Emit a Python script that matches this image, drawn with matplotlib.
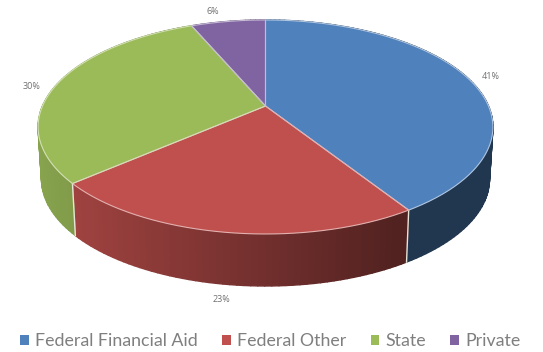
import numpy as np
import matplotlib
matplotlib.use('Agg')
import matplotlib.pyplot as plt
from matplotlib.collections import PolyCollection
from matplotlib.colors import to_rgb
from matplotlib.patches import Patch

categories = ['Federal Financial Aid', 'Federal Other', 'State', 'Private']
shares = [41.0, 22.6, 30.0, 6.4]
colors = ['#4f81bd', '#c0504d', '#9bbb59', '#8064a2']
label_offsets = [(22, -2), (-4, 67), (-26, 3), (-15, -10)]

# pie geometry in pixels, with a simple perspective
cx, cy = 265.5, 106
ax_x, ax_y, persp = 223, 102.9, 0.196
depth = 52
bottom_scale = 0.985


def top_pts(a, r=1.0):
    u, v = r * np.sin(a), r * np.cos(a)
    w = 1 + persp * v
    return cx + ax_x * u / w, cy - ax_y * v / w


def bottom_pts(a):
    x, y = top_pts(a)
    return cx + (x - cx) * bottom_scale, y + depth


def shade(x):
    return np.clip(0.87 - (x - 40) / 360 * 0.45, 0.42, 0.87)


fig = plt.figure(figsize=(5.43, 3.52), dpi=100)
ax = fig.add_axes([0, 0, 1, 1])
ax.set_xlim(0, 543)
ax.set_ylim(352, 0)
ax.axis('off')

edges = np.cumsum([0] + shares) / sum(shares) * 2 * np.pi

# sides first, the top covers the part at the back
for i, c in enumerate(colors):
    base = np.array(to_rgb(c))
    th = np.linspace(edges[i], edges[i + 1], max(int((edges[i + 1] - edges[i]) * 40), 4))
    xt, yt = top_pts(th)
    xb, yb = bottom_pts(th)
    quads = []
    cols = []
    for j in range(len(th) - 1):
        quads.append([(xt[j], yt[j]), (xt[j + 1], yt[j + 1]), (xb[j + 1], yb[j + 1]), (xb[j], yb[j])])
        cols.append(base * shade((xt[j] + xt[j + 1]) / 2))
    ax.add_collection(PolyCollection(quads, facecolors=cols, edgecolors=cols, linewidths=1.0, zorder=2))

# seams on the front side
for e in edges[1:3]:
    xt, yt = top_pts(e)
    xb, yb = bottom_pts(e)
    ax.plot([xt, xb], [yt, yb], color='#e6e6d8', lw=1, zorder=3)

# top face
for i, c in enumerate(colors):
    th = np.linspace(edges[i], edges[i + 1], 200)
    xt, yt = top_pts(th)
    ax.fill(np.r_[cx, xt], np.r_[cy, yt], color=c, lw=0, zorder=4)
    light = np.array(to_rgb(c)) * 0.45 + 0.55
    ax.plot(np.r_[cx, xt, cx], np.r_[cy, yt, cy], color=light, lw=0.8, zorder=5)

# labels
for i, s in enumerate(shares):
    mid = (edges[i] + edges[i + 1]) / 2
    x, y = top_pts(mid)
    ax.text(x + label_offsets[i][0], y + label_offsets[i][1], '%.0f%%' % s,
            fontsize=6.5, color='#707070', family='Open Sans', ha='center', va='center', zorder=6)

handles = [Patch(facecolor=c, edgecolor='none') for c in colors]
ax.legend(handles, categories, loc='center', bbox_to_anchor=(270.5 / 543, 1 - 341 / 352), ncol=4,
          frameon=False, handlelength=0.5, handleheight=0.5, handletextpad=0.35, columnspacing=1.35,
          borderpad=0, labelcolor='#7f7f7f', prop={'family': 'Lato', 'size': 12.8})

plt.savefig('out.png', dpi=100)
